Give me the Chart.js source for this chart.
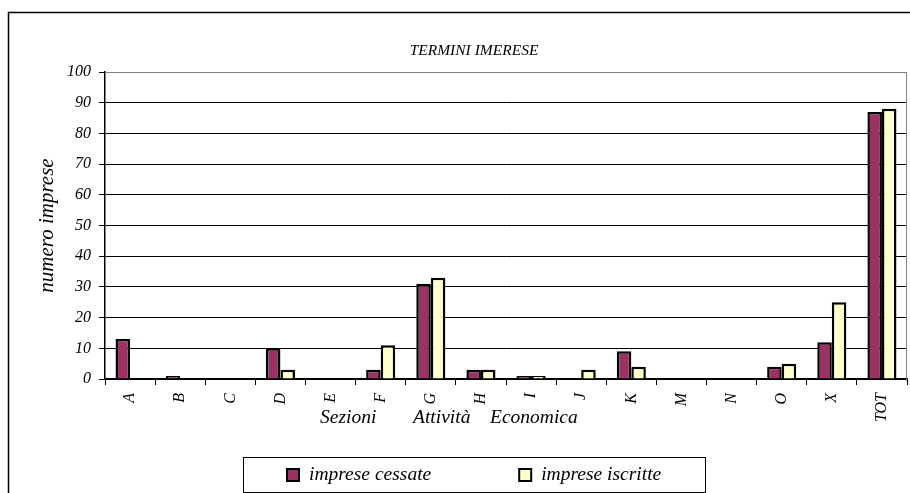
<!DOCTYPE html>
<html>
<head>
<meta charset="utf-8">
<title>Termini Imerese</title>
<script src="https://cdn.jsdelivr.net/npm/chart.js@4.4.1/dist/chart.umd.min.js"></script>
<style>
  html, body { margin: 0; padding: 0; background: #fff; overflow: hidden; }
  canvas { display: block; }
</style>
</head>
<body>
<canvas id="chart" width="910" height="493"></canvas>
<script>
// Data
const sezioni = ['A', 'B', 'C', 'D', 'E', 'F', 'G', 'H', 'I', 'J', 'K', 'M', 'N', 'O', 'X', 'TOT'];
const impreseCessate = [13, 1, 0, 10, 0, 3, 31, 3, 1, 0, 9, 0, 0, 4, 12, 87];
const impreseIscritte = [0, 0, 0, 3, 0, 11, 33, 3, 1, 3, 4, 0, 0, 5, 25, 88];
const yTickValues = [0, 10, 20, 30, 40, 50, 60, 70, 80, 90, 100];

const chartTitle = 'TERMINI IMERESE';
const xCaptionWords = ['Sezioni', 'Attività', 'Economica'];
const yCaption = 'numero imprese';

const serif = "'Liberation Serif', 'Times New Roman', serif";

// Frame, title, x caption and boxed legend the way Excel draws them
const excelFrame = {
    id: 'excelFrame',
    beforeDatasetsDraw(chart) {
        const { ctx, chartArea: a } = chart;
        ctx.save();
        ctx.strokeStyle = '#808080';
        ctx.lineWidth = 1;
        ctx.beginPath();
        ctx.moveTo(a.left, a.top + 0.5);
        ctx.lineTo(a.right - 0.5, a.top + 0.5);
        ctx.lineTo(a.right - 0.5, a.bottom + 2);
        ctx.stroke();
        ctx.restore();
    },
    afterDraw(chart) {
        const { ctx, chartArea: a } = chart;
        const cx = 474; // middle of the outer frame (it runs past the right edge)

        ctx.save();
        // outer frame
        ctx.strokeStyle = '#000';
        ctx.lineWidth = 1.5;
        ctx.strokeRect(8.5, 12.5, chart.width + 40, chart.height + 40);

        ctx.fillStyle = '#000';
        ctx.textBaseline = 'middle';

        // title
        ctx.font = 'italic 15.5px ' + serif;
        ctx.textAlign = 'center';
        ctx.fillText(chartTitle, cx, 51);

        // x caption, words spread out like the original
        ctx.font = 'italic 19.5px ' + serif;
        ctx.textAlign = 'left';
        const wordOffsets = [215, 308, 385];
        xCaptionWords.forEach((w, i) => ctx.fillText(w, a.left + wordOffsets[i], a.bottom + 39));

        // legend
        const legendTop = a.bottom + 78;
        ctx.lineWidth = 1;
        ctx.strokeStyle = '#000';
        ctx.strokeRect(cx - 231 + 0.5, legendTop + 0.5, 462, 35);

        const box = 12, gap = 10, spacing = 88;
        const items = chart.data.datasets.map(ds => ({
            label: ds.label,
            fill: ds.backgroundColor,
            w: ctx.measureText(ds.label).width
        }));
        const total = items.reduce((s, it) => s + box + gap + it.w, 0) + spacing * (items.length - 1);
        let x = Math.round(cx - total / 2);
        const y = legendTop + 18;
        items.forEach(it => {
            ctx.fillStyle = it.fill;
            ctx.fillRect(x, y - box / 2, box, box);
            ctx.lineWidth = 2;
            ctx.strokeRect(x, y - box / 2, box, box);
            ctx.fillStyle = '#000';
            ctx.fillText(it.label, x + box + gap, y);
            x += box + gap + it.w + spacing;
        });
        ctx.restore();
    }
};

const ctx = document.getElementById('chart').getContext('2d');

new Chart(ctx, {
    type: 'bar',
    data: {
        labels: sezioni,
        datasets: [{
            label: 'imprese cessate',
            data: impreseCessate,
            backgroundColor: '#993366',
            borderColor: '#000',
            borderWidth: 2.5
        }, {
            label: 'imprese iscritte',
            data: impreseIscritte,
            backgroundColor: '#FFFFCC',
            borderColor: '#000',
            borderWidth: 2.5
        }]
    },
    options: {
        responsive: false,
        animation: false,
        layout: { padding: { top: 72, right: 3, bottom: 64, left: 0 } },
        datasets: {
            bar: { categoryPercentage: 0.58, barPercentage: 1.0 }
        },
        plugins: {
            legend: { display: false },
            title: { display: false },
            tooltip: { enabled: false }
        },
        scales: {
            x: {
                grid: { drawOnChartArea: false, offset: true, tickLength: 6, tickColor: '#000' },
                border: { color: '#000', width: 1.5 },
                ticks: {
                    color: '#000',
                    font: { family: serif, size: 16, style: 'italic' },
                    minRotation: 90,
                    maxRotation: 90,
                    autoSkip: false,
                    padding: 8
                },
                afterFit(scale) { scale.height = 50; }
            },
            y: {
                min: 0,
                max: 100,
                afterBuildTicks(scale) {
                    scale.ticks = yTickValues.map(v => ({ value: v }));
                },
                grid: {
                    color: c => (c.tick && c.tick.value === 100 ? '#808080' : '#000'),
                    tickColor: '#000',
                    tickLength: 6
                },
                border: { color: '#000', width: 1.5 },
                ticks: {
                    color: '#000',
                    font: { family: serif, size: 16, style: 'italic' },
                    padding: 8
                },
                title: {
                    display: true,
                    text: yCaption,
                    color: '#000',
                    font: { family: serif, size: 21, style: 'italic' },
                    padding: { top: 35, bottom: 0 }
                },
                afterFit(scale) { scale.width = 105; }
            }
        }
    },
    plugins: [excelFrame]
});
</script>
</body>
</html>
